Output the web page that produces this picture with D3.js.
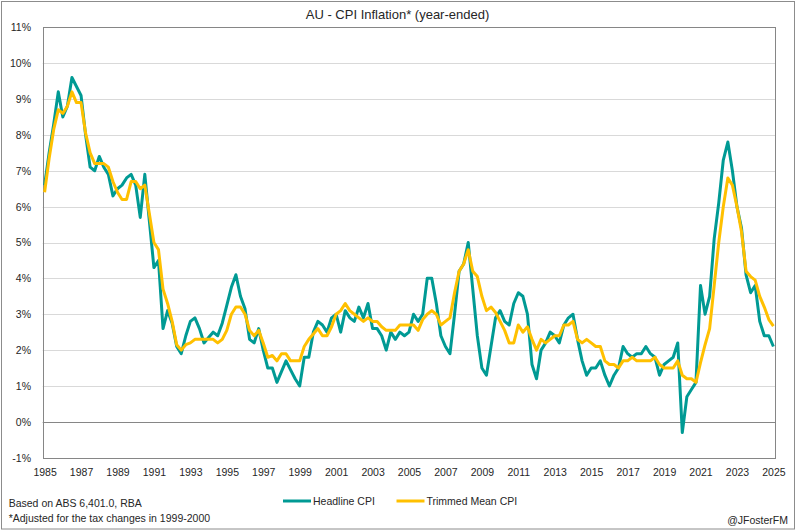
<!DOCTYPE html>
<html>
<head>
<meta charset="utf-8">
<script src="https://cdn.jsdelivr.net/npm/d3@7"></script>
<style>
	body { margin: 0; background: #fff; }
	svg text { font-family: "Liberation Sans", Arial, sans-serif; fill: #262626; }
</style>
</head>
<body>
<svg id="chart" width="796" height="531"></svg>
<script>
// Year-ended inflation, quarterly from Jun 1985 to Jun 2025
const headline = [
	6.6, 7.5, 8.3, 9.2, 8.5, 8.8, 9.6, 9.35, 9.1, 8.0,
	7.1, 7.0, 7.4, 7.1, 6.9, 6.3, 6.5, 6.6, 6.8, 6.9,
	6.6, 5.7, 6.9, 5.6, 4.3, 4.5, 2.6, 3.1, 2.75, 2.1,
	1.9, 2.4, 2.8, 2.9, 2.6, 2.2, 2.35, 2.5, 2.4, 2.75,
	3.25, 3.75, 4.1, 3.5, 3.15, 2.3, 2.2, 2.6, 2.0, 1.5,
	1.5, 1.1, 1.4, 1.7, 1.45, 1.2, 1.0, 1.8, 1.8, 2.5,
	2.8, 2.7, 2.5, 2.9, 3.0, 2.5, 3.1, 2.9, 2.8, 3.2,
	2.9, 3.3, 2.6, 2.6, 2.4, 2.0, 2.5, 2.3, 2.5, 2.4,
	2.5, 3.0, 2.8, 3.0, 4.0, 4.0, 3.3, 2.4, 2.1, 1.9,
	3.0, 4.2, 4.4, 5.0, 3.7, 2.4, 1.5, 1.3, 2.1, 2.9,
	3.1, 2.8, 2.7, 3.3, 3.6, 3.5, 3.0, 1.6, 1.2, 2.0,
	2.2, 2.5, 2.4, 2.2, 2.7, 2.9, 3.0, 2.3, 1.7, 1.3,
	1.5, 1.5, 1.7, 1.3, 1.0, 1.3, 1.5, 2.1, 1.9, 1.8,
	1.9, 1.9, 2.1, 1.9, 1.8, 1.3, 1.6, 1.7, 1.8, 2.2,
	-0.3, 0.7, 0.9, 1.1, 3.8, 3.0, 3.5, 5.1, 6.1, 7.3,
	7.8, 7.0, 6.0, 5.4, 4.1, 3.6, 3.8, 2.8, 2.4, 2.4,
	2.1
];

const trimmedMean = [
	6.4, 7.35, 8.15, 8.7, 8.6, 8.8, 9.2, 8.9, 8.9, 8.05,
	7.5, 7.2, 7.2, 7.2, 7.1, 6.7, 6.4, 6.2, 6.2, 6.7,
	6.7, 6.5, 6.6, 5.8, 5.0, 4.8, 3.7, 3.3, 2.8, 2.15,
	2.0, 2.15, 2.2, 2.3, 2.3, 2.3, 2.3, 2.3, 2.2, 2.3,
	2.55, 3.0, 3.2, 3.2, 3.0, 2.55, 2.4, 2.55, 2.2, 1.8,
	1.85, 1.7, 1.9, 1.9, 1.7, 1.7, 1.7, 2.1, 2.3, 2.45,
	2.6, 2.4, 2.4, 2.65, 3.0, 3.1, 3.3, 3.1, 3.0, 2.9,
	2.8, 2.9, 2.8, 2.8, 2.65, 2.55, 2.55, 2.55, 2.7, 2.7,
	2.7, 2.7, 2.55, 2.85, 3.0, 3.1, 3.0, 2.7, 2.8, 2.9,
	3.6, 4.2, 4.4, 4.8, 4.2, 4.05, 3.5, 3.1, 3.2, 3.05,
	2.8, 2.55, 2.2, 2.2, 2.7, 2.5, 2.65, 2.3, 2.0, 2.3,
	2.2, 2.3, 2.4, 2.4, 2.7, 2.7, 2.8, 2.3, 2.2, 2.3,
	2.2, 2.1, 2.1, 1.7, 1.6, 1.6, 1.5, 1.7, 1.7, 1.8,
	1.7, 1.7, 1.7, 1.7, 1.8, 1.6, 1.5, 1.5, 1.5, 1.7,
	1.3, 1.2, 1.2, 1.1, 1.65, 2.15, 2.6, 3.8, 5.0, 6.0,
	6.8, 6.6, 6.0, 5.3, 4.2, 4.05, 3.95, 3.5, 3.2, 2.85,
	2.67
];

const quarterNames = ["Jun", "Sep", "Dec", "Mar"];
const quarters = headline.map((d, i) =>
	quarterNames[i % 4] + " " + (1985 + Math.floor(i / 4) + (i % 4 === 3 ? 1 : 0)));

const yearLabels = [1985, 1987, 1989, 1991, 1993, 1995, 1997, 1999, 2001, 2003,
	2005, 2007, 2009, 2011, 2013, 2015, 2017, 2019, 2021, 2023, 2025];
const yTicks = [-1, 0, 1, 2, 3, 4, 5, 6, 7, 8, 9, 10, 11];

const series = [
	{name: "Headline CPI", values: headline, color: "#009a94"},
	{name: "Trimmed Mean CPI", values: trimmedMean, color: "#ffc000"}
];

const plot = {left: 42.7, right: 775.3, top: 27.3, bottom: 457.7};

const svg = d3.select("#chart");

// outer chart border
svg.append("rect")
	.attr("x", 1.5).attr("y", 1.5)
	.attr("width", 793).attr("height", 527.5)
	.attr("fill", "none")
	.attr("stroke", "#8c8c8c");

const x = d3.scalePoint()
	.domain(quarters)
	.range([44.6, 773.4]);

const y = d3.scaleLinear()
	.domain([-1, 11])
	.range([plot.bottom, plot.top]);

// gridlines
svg.append("g")
	.selectAll("line")
	.data(yTicks.filter(d => d !== 0 && d !== -1 && d !== 11))
	.enter()
	.append("line")
	.attr("x1", plot.left).attr("x2", plot.right)
	.attr("y1", d => Math.round(y(d)) + 0.5)
	.attr("y2", d => Math.round(y(d)) + 0.5)
	.attr("stroke", "#d9d9d9");

// plot border
svg.append("rect")
	.attr("x", Math.round(plot.left) + 0.5)
	.attr("y", Math.round(plot.top) + 0.5)
	.attr("width", Math.round(plot.right) - Math.round(plot.left))
	.attr("height", Math.round(plot.bottom) - Math.round(plot.top))
	.attr("fill", "none")
	.attr("stroke", "#868686");

// zero line (category axis crosses here)
svg.append("line")
	.attr("x1", plot.left).attr("x2", plot.right)
	.attr("y1", Math.round(y(0)) + 0.5)
	.attr("y2", Math.round(y(0)) + 0.5)
	.attr("stroke", "#868686");

// y axis labels
const yAxis = d3.axisLeft(y)
	.tickValues(yTicks)
	.tickFormat(d => d + "%")
	.tickSize(0)
	.tickPadding(0);

svg.append("g")
	.attr("transform", "translate(31,0)")
	.call(yAxis)
	.call(g => g.select(".domain").remove())
	.selectAll("text")
	.attr("font-size", "10.5px")
	.attr("font-family", null)
	.attr("fill", "#262626");

// x axis labels
const xAxis = d3.axisBottom(x)
	.tickValues(yearLabels.map(yr => "Jun " + yr))
	.tickFormat(d => d.slice(4))
	.tickSize(0)
	.tickPadding(0);

svg.append("g")
	.attr("transform", "translate(0," + 469 + ")")
	.call(xAxis)
	.call(g => g.select(".domain").remove())
	.selectAll("text")
	.attr("font-size", "10.5px")
	.attr("font-family", null)
	.attr("fill", "#262626");

// lines
const line = d3.line()
	.x((d, i) => x(quarters[i]))
	.y(d => y(d));

svg.append("g")
	.selectAll("path")
	.data(series)
	.enter()
	.append("path")
	.attr("d", d => line(d.values))
	.attr("fill", "none")
	.attr("stroke", d => d.color)
	.attr("stroke-width", 3)
	.attr("stroke-linejoin", "round");

// title
svg.append("text")
	.attr("x", 397.5).attr("y", 18.5)
	.attr("text-anchor", "middle")
	.attr("font-size", "13px")
	.text("AU - CPI Inflation* (year-ended)");

// legend
const legendX = [283, 396.5];
const legend = svg.append("g")
	.selectAll("g")
	.data(series)
	.enter()
	.append("g")
	.attr("transform", (d, i) => "translate(" + legendX[i] + ",501)");
legend.append("line")
	.attr("x1", 0).attr("x2", 28)
	.attr("stroke", d => d.color)
	.attr("stroke-width", 3);
legend.append("text")
	.attr("x", 30).attr("y", 4)
	.attr("font-size", "10.5px")
	.text(d => d.name);

// notes
svg.append("text")
	.attr("x", 8.7).attr("y", 506.7)
	.attr("font-size", "10.5px")
	.text("Based on ABS 6,401.0, RBA");
svg.append("text")
	.attr("x", 8.7).attr("y", 521.7)
	.attr("font-size", "10.5px")
	.text("*Adjusted for the tax changes in 1999-2000");
svg.append("text")
	.attr("x", 788).attr("y", 524)
	.attr("text-anchor", "end")
	.attr("font-size", "10.5px")
	.text("@JFosterFM");
</script>
</body>
</html>
